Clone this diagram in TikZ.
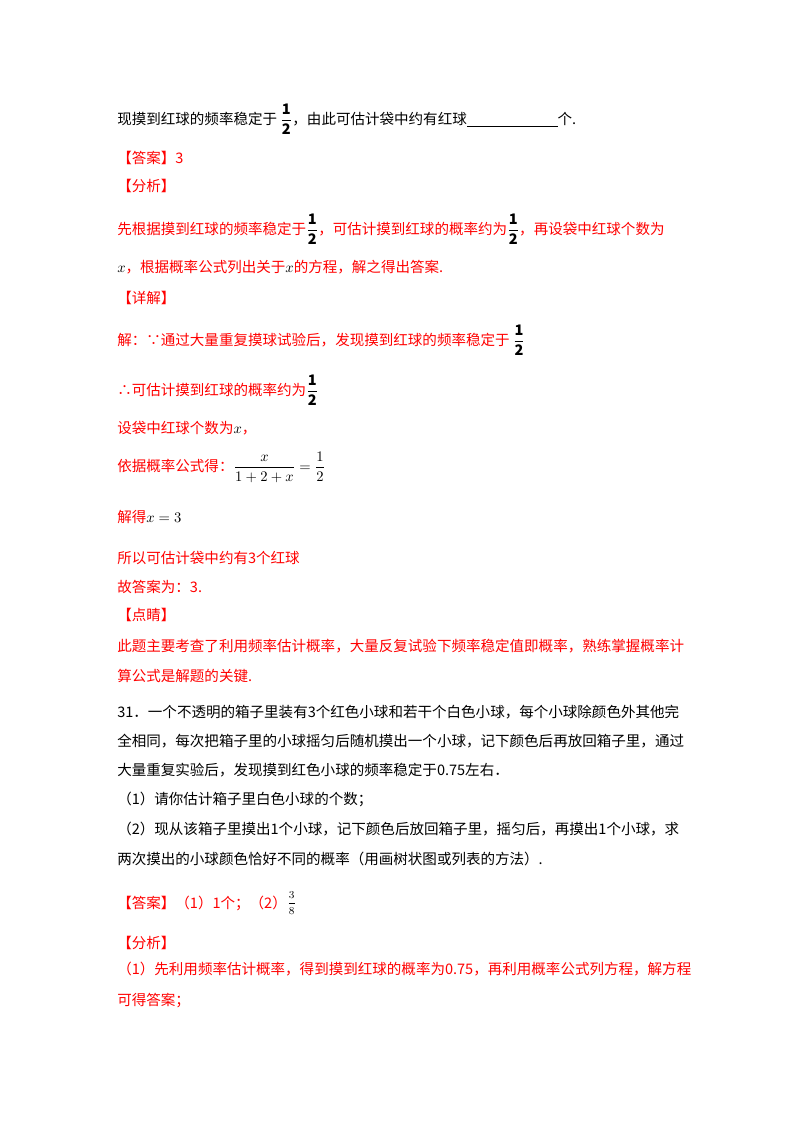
\documentclass[tikz,border=0pt]{standalone}
\usepackage{fontspec}
\setmainfont{Noto Sans CJK SC}
\usepackage{amsmath}
\begin{document}
\begin{tikzpicture}[x=0.75pt,y=-0.75pt,
  t/.style={anchor=west,inner sep=0pt,font=\fontsize{10.9}{12}\selectfont},
  r/.style={t,text=red}]
\useasboundingbox (0,0) rectangle (800,1132);
\newcommand{\hf}{{\color{black}$\displaystyle\frac{\mathbf{1}}{\mathbf{2}}$}}
\node[t] (l1) at (117,119) {现摸到红球的频率稳定于 \hf ，由此可估计袋中约有红球\underline{\hspace{68pt}}个.};
\node[r] (l2) at (117,158) {【答案】3};
\node[r] (l3) at (117,186) {【分析】};
\node[r] (l4) at (117,229) {先根据摸到红球的频率稳定于\hf ，可估计摸到红球的概率约为\hf ，再设袋中红球个数为};
\node[r] (l5) at (117,267) {{\color{black}$x$}，根据概率公式列出关于{\color{black}$x$}的方程，解之得出答案.};
\node[r] (l6) at (117,298) {【详解】};
\node[r] (l7) at (117,340) {解：∵通过大量重复摸球试验后，发现摸到红球的频率稳定于 \hf};
\node[r] (l8) at (117,390) {∴可估计摸到红球的概率约为\hf};
\node[r] (l9) at (117,428) {设袋中红球个数为{\color{black}$x$}，};
\node[r] (l10) at (117,467) {依据概率公式得：{\color{black}$\displaystyle\frac{x}{1+2+x}=\frac{1}{2}$}};
\node[r] (l11) at (117,517) {解得{\color{black}$x=3$}};
\node[r] (l12) at (117,558) {所以可估计袋中约有3个红球};
\node[r] (l13) at (117,587) {故答案为：3.};
\node[r] (l14) at (117,615) {【点睛】};
\node[r] (l15) at (117,646) {此题主要考查了利用频率估计概率，大量反复试验下频率稳定值即概率，熟练掌握概率计};
\node[r] (l16) at (117,676) {算公式是解题的关键.};
\node[t] (l17) at (117,712) {31．一个不透明的箱子里装有3个红色小球和若干个白色小球，每个小球除颜色外其他完};
\node[t] (l18) at (117,741) {全相同，每次把箱子里的小球摇匀后随机摸出一个小球，记下颜色后再放回箱子里，通过};
\node[t] (l19) at (117,770) {大量重复实验后，发现摸到红色小球的频率稳定于0.75左右．};
\node[t] (l20) at (117,799) {（1）请你估计箱子里白色小球的个数；};
\node[t] (l21) at (117,829) {（2）现从该箱子里摸出1个小球，记下颜色后放回箱子里，摇匀后，再摸出1个小球，求};
\node[t] (l22) at (117,859) {两次摸出的小球颜色恰好不同的概率（用画树状图或列表的方法）.};
\node[r] (l23) at (117,903) {【答案】（1）1个；（2）};
\node[anchor=west,inner sep=0pt,font=\fontsize{8}{9}\selectfont] (f38) at (l23.east) {$\displaystyle\frac{3}{8}$};
\node[r] (l24) at (117,943) {【分析】};
\node[r] (l25) at (117,969) {（1）先利用频率估计概率，得到摸到红球的概率为0.75，再利用概率公式列方程，解方程};
\node[r] (l26) at (117,1001) {可得答案；};
\end{tikzpicture}
\end{document}
